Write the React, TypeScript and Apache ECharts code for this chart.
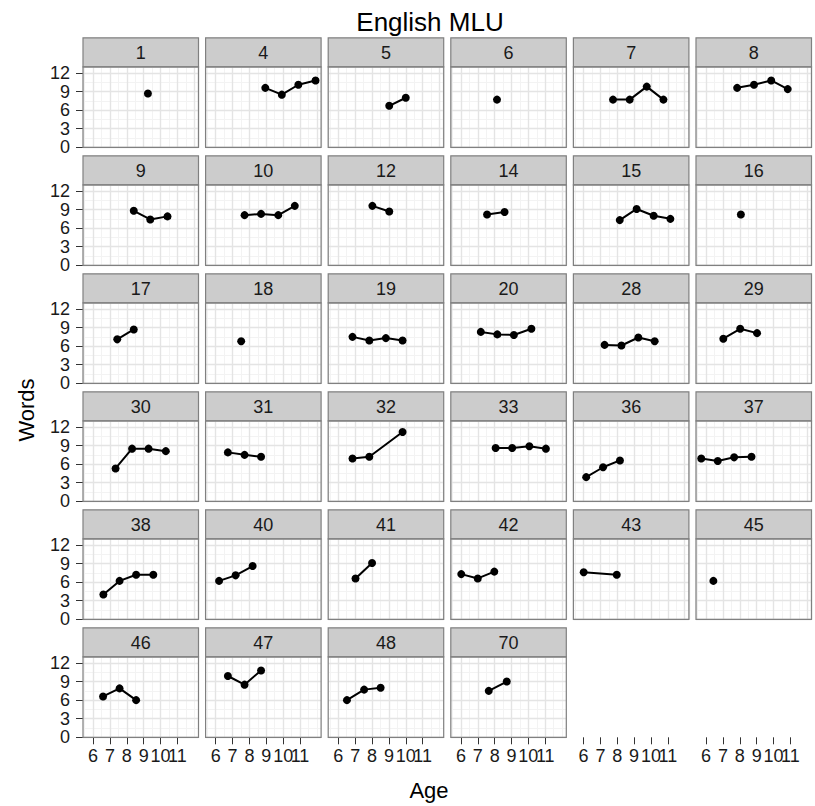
import React, { useEffect, useRef } from 'react';
import * as echarts from 'echarts';

const subjects = ['1','4','5','6','7','8','9','10','12','14','15','16','17','18','19','20','28','29','30','31','32','33','36','37','38','40','41','42','43','45','46','47','48','70'];
const ages: number[][] = [
  [9.25],
  [8.94, 9.92, 10.9, 11.92],
  [9.02, 10.0],
  [8.14],
  [7.75, 8.74, 9.75, 10.74],
  [7.84, 8.84, 9.86, 10.84],
  [8.41, 9.39, 10.41],
  [7.71, 8.69, 9.71, 10.69],
  [8.02, 9.02],
  [7.55, 8.59],
  [8.15, 9.15, 10.16, 11.15],
  [8.06],
  [7.43, 8.41],
  [7.51],
  [6.84, 7.84, 8.82, 9.81],
  [7.18, 8.16, 9.14, 10.18],
  [7.25, 8.25, 9.25, 10.22],
  [7.02, 8.02, 9.02],
  [7.33, 8.31, 9.29, 10.31],
  [6.72, 7.71, 8.69],
  [6.84, 7.84, 9.81],
  [8.06, 9.04, 10.06, 11.04],
  [6.16, 7.16, 8.16],
  [5.71, 6.69, 7.66, 8.69],
  [6.61, 7.57, 8.55, 9.57],
  [6.2, 7.18, 8.19],
  [7.02, 8.0],
  [6.02, 7.0, 7.98],
  [6.01, 7.97],
  [6.43],
  [6.59, 7.57, 8.55],
  [6.72, 7.71, 8.69],
  [6.51, 7.53, 8.51],
  [7.65, 8.72],
];
const mlu: number[][] = [
  [8.7],
  [9.6, 8.5, 10.1, 10.8],
  [6.7, 8.0],
  [7.7],
  [7.7, 7.7, 9.8, 7.7],
  [9.6, 10.1, 10.8, 9.4],
  [8.8, 7.4, 7.9],
  [8.1, 8.3, 8.1, 9.6],
  [9.6, 8.7],
  [8.2, 8.6],
  [7.3, 9.1, 8.0, 7.5],
  [8.2],
  [7.1, 8.7],
  [6.8],
  [7.5, 6.9, 7.3, 6.9],
  [8.3, 7.9, 7.8, 8.8],
  [6.2, 6.1, 7.4, 6.8],
  [7.2, 8.8, 8.1],
  [5.3, 8.5, 8.5, 8.1],
  [7.9, 7.5, 7.2],
  [6.9, 7.2, 11.2],
  [8.6, 8.6, 8.9, 8.5],
  [3.9, 5.5, 6.6],
  [6.9, 6.5, 7.1, 7.2],
  [4.0, 6.2, 7.2, 7.2],
  [6.2, 7.1, 8.6],
  [6.6, 9.1],
  [7.3, 6.6, 7.7],
  [7.6, 7.2],
  [6.2],
  [6.6, 7.9, 6.0],
  [9.9, 8.5, 10.8],
  [6.0, 7.7, 8.0],
  [7.5, 9.0],
];
const xTicks = [6, 7, 8, 9, 10, 11];
const yTicks = [0, 3, 6, 9, 12];
const xMin = 5.4, xMax = 12.25, yMin = 0, yMax = 13;
const titleText = 'English MLU';
const xTitle = 'Age';
const yTitle = 'Words';
const nCols = 6;

export default function App() {
  const ref = useRef<HTMLDivElement>(null);
  useEffect(() => {
    document.body.style.margin = '0';
    const chart = echarts.init(ref.current!, null, { renderer: 'svg' });
    const FONT = 'Liberation Sans, Arial, Helvetica, sans-serif';
    const colLeft = (c: number) => 83 + 122.6 * c;
    const stripTop = (r: number) => 37.8 + 118 * r;
    const plotTop = (r: number) => stripTop(r) + 29;
    const W = 115.5, H = 80.5;
    const nRows = Math.ceil(subjects.length / nCols);
    const grids: any[] = [], xAxes: any[] = [], yAxes: any[] = [], series: any[] = [], graphics: any[] = [];
    const minorColor = '#f3f3f3', majorColor = '#e4e4e4';
    const tickStyle = { color: '#333', width: 1 };
    const labelStyle = { fontFamily: FONT, fontSize: 18, color: '#1a1a1a', showMinLabel: true, showMaxLabel: true, hideOverlap: false, interval: 0 };
    const xLabelsA = xTicks.filter((_, k) => k % 2 === 0);
    const xLabelsB = xTicks.filter((_, k) => k % 2 === 1);

    const addBottomLabels = (g: number, withSplit: boolean) => {
      const idx = xAxes.length;
      xAxes.push({
        type: 'value', gridIndex: g, min: xMin, max: xMax, splitNumber: 5, position: 'bottom', z: 1,
        axisLine: { show: false },
        axisTick: { show: true, customValues: xTicks, length: 7, lineStyle: tickStyle },
        axisLabel: { show: true, customValues: xLabelsA, margin: 10, ...labelStyle },
        splitLine: { show: withSplit, lineStyle: { color: majorColor, width: 1.4 } },
      });
      xAxes.push({
        type: 'value', gridIndex: g, min: xMin, max: xMax, splitNumber: 5, position: 'bottom', z: 1,
        axisLine: { show: false },
        axisTick: { show: false },
        axisLabel: { show: true, customValues: xLabelsB, margin: 10, ...labelStyle },
        splitLine: { show: false },
      });
      return idx;
    };

    subjects.forEach((s, i) => {
      const r = Math.floor(i / nCols), c = i % nCols;
      const left = colLeft(c), top = plotTop(r);
      const g = grids.length;
      grids.push({ left, top, width: W, height: H, show: false });
      const showX = r === nRows - 1;
      const showY = c === 0;
      xAxes.push({
        type: 'value', gridIndex: g, min: xMin, max: xMax, splitNumber: 12, position: 'top', z: 0,
        axisLine: { show: false }, axisTick: { show: false }, axisLabel: { show: false },
        splitLine: { show: true, lineStyle: { color: minorColor, width: 1 } },
      });
      let xMajor: number;
      if (showX) {
        xMajor = addBottomLabels(g, true);
      } else {
        xMajor = xAxes.length;
        xAxes.push({
          type: 'value', gridIndex: g, min: xMin, max: xMax, splitNumber: 5, position: 'bottom', z: 1,
          axisLine: { show: false }, axisTick: { show: false }, axisLabel: { show: false },
          splitLine: { show: true, lineStyle: { color: majorColor, width: 1.4 } },
        });
      }
      yAxes.push({
        type: 'value', gridIndex: g, min: yMin, max: yMax, interval: 1.5, position: 'right', z: 0,
        axisLine: { show: false }, axisTick: { show: false }, axisLabel: { show: false },
        splitLine: { show: true, lineStyle: { color: minorColor, width: 1 } },
      });
      const yMajor = yAxes.length;
      yAxes.push({
        type: 'value', gridIndex: g, min: yMin, max: yMax, interval: 3, position: 'left', z: 1,
        axisLine: { show: false },
        axisTick: { show: showY, customValues: yTicks, length: 7, lineStyle: tickStyle },
        axisLabel: { show: showY, customValues: yTicks, margin: 13, ...labelStyle },
        splitLine: { show: true, lineStyle: { color: majorColor, width: 1.4 } },
      });
      series.push({
        type: 'line', name: s, xAxisIndex: xMajor, yAxisIndex: yMajor,
        data: ages[i].map((a, j) => [a, mlu[i][j]]),
        symbol: 'circle', symbolSize: 8, showSymbol: true,
        itemStyle: { color: '#000' }, lineStyle: { color: '#000', width: 2 }, z: 3,
      });
      graphics.push({
        type: 'rect', z: 100,
        shape: { x: left, y: stripTop(r), width: W, height: top - stripTop(r) },
        style: { fill: '#cccccc', stroke: '#808080', lineWidth: 1.2 },
      });
      graphics.push({
        type: 'text', z: 101, x: left + W / 2, y: (stripTop(r) + top) / 2 + 0.5,
        style: { text: s, fontFamily: FONT, fontSize: 18, fill: '#1a1a1a', align: 'center', verticalAlign: 'middle' },
      });
      graphics.push({
        type: 'rect', z: 100,
        shape: { x: left, y: top, width: W, height: H },
        style: { fill: 'none', stroke: '#808080', lineWidth: 1.2 },
      });
    });

    const lastCount = subjects.length - (nRows - 1) * nCols;
    for (let c = lastCount; c < nCols; c++) {
      const g = grids.length;
      grids.push({ left: colLeft(c), top: plotTop(nRows - 1), width: W, height: H, show: false });
      addBottomLabels(g, false);
      yAxes.push({ type: 'value', gridIndex: g, min: yMin, max: yMax, show: false });
    }

    graphics.push({
      type: 'text', x: 430, y: 22,
      style: { text: titleText, fontFamily: FONT, fontSize: 26, fill: '#000', align: 'center', verticalAlign: 'middle' },
    });
    graphics.push({
      type: 'text', x: 429, y: 790,
      style: { text: xTitle, fontFamily: FONT, fontSize: 22, fill: '#000', align: 'center', verticalAlign: 'middle' },
    });
    graphics.push({
      type: 'text', x: 26, y: 410, rotation: Math.PI / 2,
      style: { text: yTitle, fontFamily: FONT, fontSize: 22, fill: '#000', align: 'center', verticalAlign: 'middle' },
    });

    chart.setOption({
      animation: false,
      backgroundColor: '#ffffff',
      grid: grids,
      xAxis: xAxes,
      yAxis: yAxes,
      series,
      graphic: { elements: graphics },
    });
    return () => chart.dispose();
  }, []);
  return <div ref={ref} style={{ width: 815, height: 806 }} />;
}
